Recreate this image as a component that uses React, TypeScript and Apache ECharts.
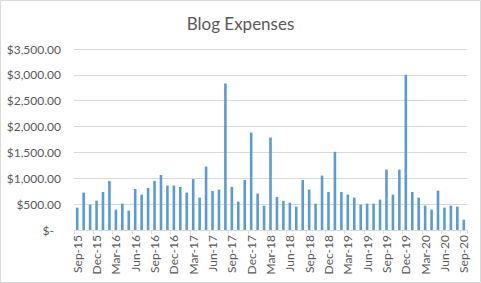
import React, { useEffect, useRef } from "react";
import * as echarts from "echarts";

const monthNames = ["Jan", "Feb", "Mar", "Apr", "May", "Jun", "Jul", "Aug", "Sep", "Oct", "Nov", "Dec"];
const categories: string[] = [];
for (let i = 0; i < 61; i++) {
  const m = (8 + i) % 12;
  const y = 15 + Math.floor((8 + i) / 12);
  categories.push(`${monthNames[m]}-${y}`);
}

const expenses = [
  433, 723, 491, 568, 736, 949, 394, 510, 374, 794, 684, 813,
  949, 1065, 859, 859, 833, 723, 988, 626, 1227, 755, 781, 2834,
  833, 549, 968, 1885, 704, 471, 1788, 639, 562, 529, 452, 968,
  781, 510, 1052, 736, 1511, 736, 684, 626, 491, 510, 510, 587,
  1168, 684, 1168, 3002, 736, 626, 471, 394, 762, 433, 471, 452,
  200,
];

const title = "Blog Expenses";

export default function App() {
  const ref = useRef<HTMLDivElement>(null);
  useEffect(() => {
    if (!ref.current) return;
    const chart = echarts.init(ref.current, null, { renderer: "svg" });
    const font = "Lato, 'Open Sans', sans-serif";
    chart.setOption({
      animation: false,
      backgroundColor: "#ffffff",
      title: {
        text: title,
        left: "center",
        top: 10,
        textStyle: { fontFamily: font, fontSize: 17, fontWeight: "normal", color: "#595959" },
      },
      graphic: [
        {
          type: "rect",
          shape: { x: 0.5, y: 0.5, width: 480, height: 282 },
          style: { fill: "none", stroke: "#d9d9d9", lineWidth: 1 },
          silent: true,
        },
      ],
      grid: { left: 74, right: 14, top: 49, bottom: 53, containLabel: false },
      xAxis: {
        type: "category",
        data: categories,
        boundaryGap: true,
        axisLine: { show: true, lineStyle: { color: "#d9d9d9", width: 1 } },
        axisTick: { show: true, interval: 2, length: 4, lineStyle: { color: "#d9d9d9" } },
        axisLabel: {
          interval: 2,
          rotate: 90,
          margin: 5,
          fontFamily: font,
          fontSize: 12,
          color: "#595959",
        },
      },
      yAxis: {
        type: "value",
        min: 0,
        max: 3500,
        interval: 500,
        axisLine: { show: false },
        axisTick: { show: false },
        splitLine: { lineStyle: { color: "#d9d9d9", width: 1 } },
        axisLabel: {
          margin: 13,
          fontFamily: font,
          fontSize: 12,
          color: "#595959",
          formatter: (v: number) =>
            v === 0
              ? "{z|$-}"
              : "$" + v.toLocaleString("en-US", { minimumFractionDigits: 2, maximumFractionDigits: 2 }),
          rich: {
            z: { fontFamily: font, fontSize: 12, color: "#595959", padding: [0, 7, 0, 0] },
          },
        },
      },
      series: [
        {
          type: "bar",
          data: expenses,
          barWidth: 2.6,
          itemStyle: { color: "#5B9BD5" },
        },
      ],
    });
    return () => chart.dispose();
  }, []);
  return <div ref={ref} style={{ position: "fixed", left: 0, top: 0, width: 481, height: 283 }} />;
}
